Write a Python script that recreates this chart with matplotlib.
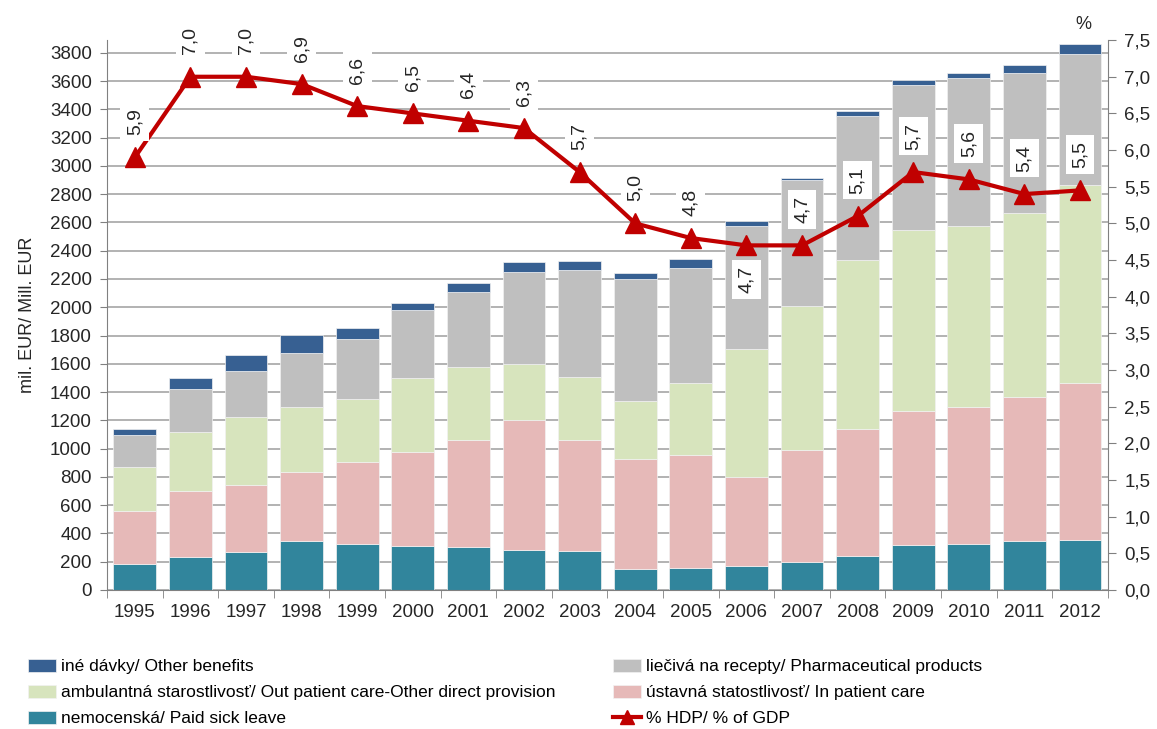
import matplotlib
matplotlib.use("Agg")
import matplotlib.pyplot as plt
import numpy as np

plt.rcParams['font.family'] = ['Liberation Sans', 'DejaVu Sans']

# Data (mil. EUR)
years = ['1995', '1996', '1997', '1998', '1999', '2000', '2001', '2002', '2003',
         '2004', '2005', '2006', '2007', '2008', '2009', '2010', '2011', '2012']
sick_leave = [181, 233, 266, 344, 325, 309, 302, 285, 274, 149, 158, 172, 198, 240, 318, 325, 344, 354]
in_patient = [380, 465, 474, 488, 582, 667, 759, 919, 787, 775, 794, 625, 794, 896, 946, 971, 1019, 1112]
out_patient = [307, 422, 481, 464, 441, 523, 514, 396, 445, 415, 514, 905, 1016, 1200, 1284, 1276, 1305, 1396]
pharma = [226, 304, 330, 382, 425, 481, 532, 651, 755, 858, 813, 872, 889, 1016, 1026, 1051, 988, 933]
other = [42, 75, 109, 128, 82, 52, 64, 69, 68, 47, 59, 36, 14, 36, 33, 33, 60, 70]
# % of GDP
gdp_share = [5.9, 7.0, 7.0, 6.9, 6.6, 6.5, 6.4, 6.3, 5.7, 5.0, 4.8, 4.7, 4.7, 5.1, 5.7, 5.6, 5.4, 5.45]

series = [
    (sick_leave, '#31859c', 'nemocenská/ Paid sick leave'),
    (in_patient, '#e6b9b8', 'ústavná statostlivosť/ In patient care'),
    (out_patient, '#d7e4bd', 'ambulantná starostlivosť/ Out patient care-Other direct provision'),
    (pharma, '#bfbfbf', 'liečivá na recepty/ Pharmaceutical products'),
    (other, '#376092', 'iné dávky/ Other benefits'),
]

fig = plt.figure(figsize=(11.57, 7.29), dpi=100)
ax = fig.add_axes([0.0925, 0.1907, 0.865, 0.7543])
x = np.arange(len(years))

bottom = np.zeros(len(years))
bars = {}
for vals, col, lab in series:
    b = ax.bar(x, vals, 0.77, bottom=bottom, color=col, edgecolor='#f2f2f2',
               linewidth=0.5, label=lab, zorder=2)
    bars[lab] = b
    bottom += np.array(vals)

ax.set_xlim(-0.5, len(years) - 0.5)
ax.set_ylim(0, 3890)
ax.set_yticks(range(0, 3801, 200))
ax.yaxis.grid(True, color='#a6a6a6', linewidth=1.2)
ax.set_axisbelow(True)
ax.set_xticks(x)
ax.set_xticklabels(years)
ax.set_xticks(np.arange(-0.5, len(years)), minor=True)
ax.tick_params(axis='x', which='major', length=0, pad=10, labelsize=13.5, colors='#262626')
ax.tick_params(axis='x', which='minor', length=6, color='#808080')
ax.tick_params(axis='y', length=5, color='#808080', labelsize=13.5, labelcolor='#262626', pad=6)
for s in ['top', 'right']:
    ax.spines[s].set_visible(False)
ax.spines['left'].set_color('#808080')
ax.spines['bottom'].set_color('#808080')
ax.set_ylabel('mil. EUR/ Mill. EUR', fontsize=13, color='#262626', labelpad=10)

ax2 = ax.twinx()
ax2.set_ylim(0, 7.5)
ax2.set_yticks(np.arange(0, 7.51, 0.5))
ax2.set_yticklabels([f'{v:.1f}'.replace('.', ',') for v in np.arange(0, 7.51, 0.5)])
ax2.tick_params(axis='y', length=6, color='#808080', labelsize=13.5, labelcolor='#262626', pad=6)
for s in ['top', 'left', 'bottom']:
    ax2.spines[s].set_visible(False)
ax2.spines['right'].set_color('#808080')

line, = ax2.plot(x, gdp_share, color='#c00000', linewidth=3, marker='^',
                 markersize=15, label='% HDP/ % of GDP', zorder=5)

for i, v in enumerate(gdp_share):
    label = f'{v:.1f}'.replace('.', ',')
    off = -34 if years[i] == '2006' else 36
    ax2.annotate(label, (i, v), xytext=(0, off), textcoords='offset pixels',
                 ha='center', va='center', rotation=90, fontsize=14, color='#262626',
                 bbox=dict(boxstyle='square,pad=0.3', fc='white', ec='none'), zorder=6)

fig.text(0.936, 0.967, '%', fontsize=13, color='#262626', ha='center', va='center')

handles = [bars[series[4][2]], bars[series[2][2]], bars[series[0][2]],
           bars[series[3][2]], bars[series[1][2]], line]
labels = [series[4][2], series[2][2], series[0][2], series[3][2], series[1][2], '% HDP/ % of GDP']
fig.legend(handles, labels, ncol=2, loc='lower left', bbox_to_anchor=(0.011, -0.018),
           frameon=False, fontsize=12.5, handlelength=1.6, handleheight=0.8,
           handletextpad=0.3, labelspacing=0.6, columnspacing=3.3, markerscale=0.7)

fig.savefig('out.png', dpi=100)
